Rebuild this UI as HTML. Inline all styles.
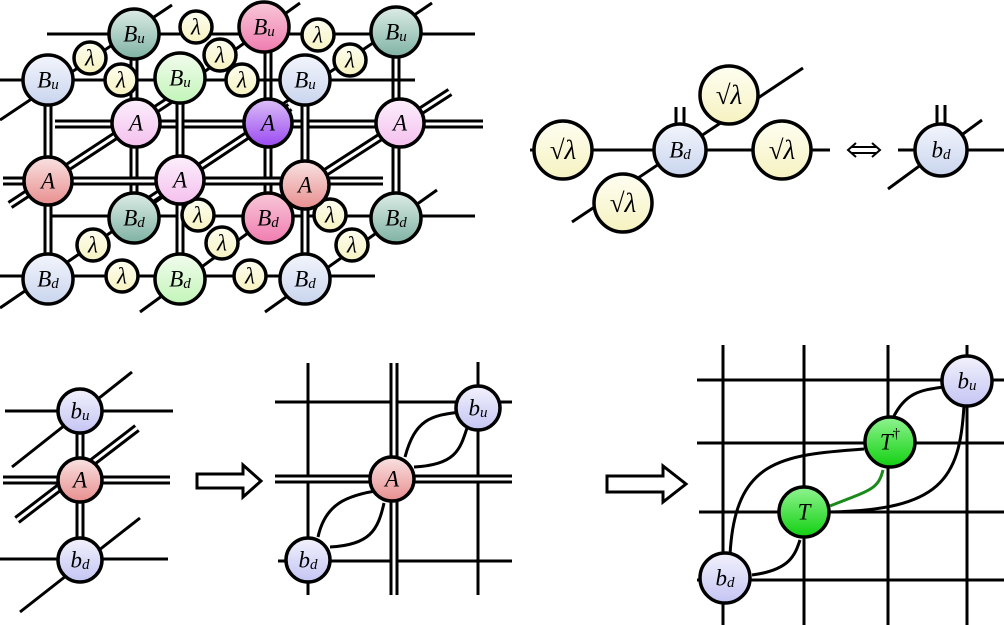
<!DOCTYPE html>
<html><head><meta charset="utf-8"><style>html,body{margin:0;padding:0;background:#fff}svg{display:block}</style></head><body>
<svg width="1004" height="625" viewBox="0 0 1004 625" xmlns="http://www.w3.org/2000/svg">
<defs>
<linearGradient id="lb" x1="0" y1="0" x2="0" y2="1"><stop offset="0" stop-color="#f3f5fc"/><stop offset="1" stop-color="#c9d5ee"/></linearGradient>
<linearGradient id="te" x1="0" y1="0" x2="0" y2="1"><stop offset="0" stop-color="#dcece6"/><stop offset="1" stop-color="#7fb2a3"/></linearGradient>
<linearGradient id="gr" x1="0" y1="0" x2="0" y2="1"><stop offset="0" stop-color="#f2fcee"/><stop offset="1" stop-color="#c2f5b8"/></linearGradient>
<linearGradient id="pk" x1="0" y1="0" x2="0" y2="1"><stop offset="0" stop-color="#f8c8d8"/><stop offset="1" stop-color="#f07cb0"/></linearGradient>
<linearGradient id="pu" x1="0" y1="0" x2="0" y2="1"><stop offset="0" stop-color="#dcc0f8"/><stop offset="1" stop-color="#9a48f0"/></linearGradient>
<linearGradient id="pa" x1="0" y1="0" x2="0" y2="1"><stop offset="0" stop-color="#fcf0fc"/><stop offset="1" stop-color="#f4c0ee"/></linearGradient>
<linearGradient id="ra" x1="0" y1="0" x2="0" y2="1"><stop offset="0" stop-color="#f9e2e2"/><stop offset="1" stop-color="#e88e8e"/></linearGradient>
<linearGradient id="la" x1="0" y1="0" x2="0" y2="1"><stop offset="0" stop-color="#fefef2"/><stop offset="1" stop-color="#f6f2c0"/></linearGradient>
<linearGradient id="bb" x1="0" y1="0" x2="0" y2="1"><stop offset="0" stop-color="#f2f2fc"/><stop offset="1" stop-color="#c4c4f4"/></linearGradient>
<linearGradient id="tg" x1="0" y1="0" x2="0" y2="1"><stop offset="0" stop-color="#90f490"/><stop offset="1" stop-color="#10d010"/></linearGradient>
</defs>
<style>
.s{stroke:#000;stroke-width:3;fill:none}
.d{stroke:#000;stroke-width:9;fill:none}
.w{stroke:#fff;stroke-width:3;fill:none}
.c{stroke:#000;stroke-width:3.5}
text{font-family:"Liberation Serif",serif;font-style:italic;font-size:23px;text-anchor:middle;dominant-baseline:central}
.sm{font-size:15px}
.sq{font-size:27px}
</style>

<g>
<line class="s" x1="47" y1="34" x2="475" y2="34"/>
<line class="s" x1="47" y1="216" x2="475" y2="216"/>
<path class="d" d="M134 34V218M268 27V218M396 32V218"/>
<path class="w" d="M134 34V218M268 27V218M396 32V218"/>
<path class="d" d="M55 124H483"/><path class="w" d="M55 124H483"/>
<path class="s" d="M0 120L172 5M140 118L300 3M262 118L432 3M0 308L170 192M140 312L300 195M265 312L437 190"/>
<path class="d" d="M10 205L170 100M150 200L290 107M275 205L450 92"/>
<path class="w" d="M10 205L170 100M150 200L290 107M275 205L450 92"/>
<line class="s" x1="0" y1="80" x2="415" y2="80"/>
<line class="s" x1="0" y1="276" x2="375" y2="276"/>
<path class="d" d="M48 80V279M180 78V279M305 80V279"/>
<path class="w" d="M48 80V279M180 78V279M305 80V279"/>
<path class="d" d="M3 181H383"/><path class="w" d="M3 181H383"/>

<circle class="c" cx="134" cy="34" r="25" fill="url(#te)"/><text x="134" y="34">B<tspan class="sm" dy="5">u</tspan></text>
<circle class="c" cx="264" cy="27" r="25" fill="url(#pk)"/><text x="264" y="27">B<tspan class="sm" dy="5">u</tspan></text>
<circle class="c" cx="396" cy="32" r="25" fill="url(#te)"/><text x="396" y="32">B<tspan class="sm" dy="5">u</tspan></text>
<circle class="c" cx="196" cy="27" r="16" fill="url(#la)"/><text x="196" y="27">λ</text>
<circle class="c" cx="318" cy="35" r="16" fill="url(#la)"/><text x="318" y="35">λ</text>
<circle class="c" cx="90" cy="58" r="16" fill="url(#la)"/><text x="90" y="58">λ</text>
<circle class="c" cx="220" cy="55" r="16" fill="url(#la)"/><text x="220" y="55">λ</text>
<circle class="c" cx="350" cy="60" r="16" fill="url(#la)"/><text x="350" y="60">λ</text>
<circle class="c" cx="121" cy="80" r="16" fill="url(#la)"/><text x="121" y="80">λ</text>
<circle class="c" cx="242" cy="80" r="16" fill="url(#la)"/><text x="242" y="80">λ</text>
<circle class="c" cx="48" cy="80" r="25" fill="url(#lb)"/><text x="48" y="80">B<tspan class="sm" dy="5">u</tspan></text>
<circle class="c" cx="180" cy="78" r="25" fill="url(#gr)"/><text x="180" y="78">B<tspan class="sm" dy="5">u</tspan></text>
<circle class="c" cx="305" cy="80" r="25" fill="url(#lb)"/><text x="305" y="80">B<tspan class="sm" dy="5">u</tspan></text>
<circle class="c" cx="136" cy="123" r="24" fill="url(#pa)"/><text x="136" y="123">A</text>
<circle class="c" cx="268" cy="123" r="24" fill="url(#pu)"/><text x="268" y="123">A</text>
<circle class="c" cx="400" cy="123" r="24" fill="url(#pa)"/><text x="400" y="123">A</text>
<circle class="c" cx="134" cy="218" r="25" fill="url(#te)"/><text x="134" y="218">B<tspan class="sm" dy="5">d</tspan></text>
<circle class="c" cx="268" cy="218" r="25" fill="url(#pk)"/><text x="268" y="218">B<tspan class="sm" dy="5">d</tspan></text>
<circle class="c" cx="396" cy="218" r="25" fill="url(#te)"/><text x="396" y="218">B<tspan class="sm" dy="5">d</tspan></text>
<circle class="c" cx="198" cy="215" r="16" fill="url(#la)"/><text x="198" y="215">λ</text>
<circle class="c" cx="330" cy="215" r="16" fill="url(#la)"/><text x="330" y="215">λ</text>
<circle class="c" cx="48" cy="181" r="24" fill="url(#ra)"/><text x="48" y="181">A</text>
<circle class="c" cx="180" cy="180" r="24" fill="url(#pa)"/><text x="180" y="180">A</text>
<circle class="c" cx="305" cy="185" r="24" fill="url(#ra)"/><text x="305" y="185">A</text>
<circle class="c" cx="93" cy="245" r="16" fill="url(#la)"/><text x="93" y="245">λ</text>
<circle class="c" cx="222" cy="243" r="16" fill="url(#la)"/><text x="222" y="243">λ</text>
<circle class="c" cx="352" cy="245" r="16" fill="url(#la)"/><text x="352" y="245">λ</text>
<circle class="c" cx="122" cy="276" r="16" fill="url(#la)"/><text x="122" y="276">λ</text>
<circle class="c" cx="250" cy="276" r="16" fill="url(#la)"/><text x="250" y="276">λ</text>
<circle class="c" cx="48" cy="279" r="25" fill="url(#lb)"/><text x="48" y="279">B<tspan class="sm" dy="5">d</tspan></text>
<circle class="c" cx="180" cy="279" r="25" fill="url(#gr)"/><text x="180" y="279">B<tspan class="sm" dy="5">d</tspan></text>
<circle class="c" cx="305" cy="279" r="25" fill="url(#lb)"/><text x="305" y="279">B<tspan class="sm" dy="5">d</tspan></text>
</g>

<!-- TOP-RIGHT -->
<line class="s" x1="530" y1="150" x2="830" y2="150"/>
<line class="s" x1="572" y1="222" x2="803" y2="68"/>
<path class="s" d="M676 107V126M684 107V126"/>
<circle class="c" cx="563" cy="150" r="29" fill="url(#la)"/><text class="sq" x="563" y="150">√λ</text>
<circle class="c" cx="729" cy="95" r="29" fill="url(#la)"/><text class="sq" x="729" y="95">√λ</text>
<circle class="c" cx="782" cy="150" r="29" fill="url(#la)"/><text class="sq" x="782" y="150">√λ</text>
<circle class="c" cx="623" cy="203" r="29" fill="url(#la)"/><text class="sq" x="623" y="203">√λ</text>
<circle class="c" cx="680" cy="150" r="26" fill="url(#lb)"/><text x="680" y="150">B<tspan class="sm" dy="5">d</tspan></text>
<path d="M856 143L848 150L856 157M872 143L880 150L872 157M851 147H877M851 153H877" stroke="#000" stroke-width="2" fill="none"/>
<line class="s" x1="898" y1="150" x2="1004" y2="150"/>
<line class="s" x1="888" y1="189" x2="982" y2="120"/>
<path class="s" d="M937 105V125M945 105V125"/>
<circle class="c" cx="941" cy="150" r="26" fill="url(#lb)"/><text x="941" y="150">b<tspan class="sm" dy="5">d</tspan></text>

<!-- BOTTOM-LEFT -->
<line class="s" x1="5" y1="411" x2="173" y2="411"/>
<line class="s" x1="0" y1="559" x2="168" y2="559"/>
<path class="d" d="M3 480H170"/><path class="w" d="M3 480H170"/>
<path class="s" d="M12 467L132 372M20 612L140 518"/>
<path class="d" d="M17 520L137 428"/><path class="w" d="M17 520L137 428"/>
<path class="d" d="M80 411V560"/><path class="w" d="M80 411V560"/>
<circle class="c" cx="80" cy="411" r="22" fill="url(#bb)"/><text x="80" y="411">b<tspan class="sm" dy="5">u</tspan></text>
<circle class="c" cx="80" cy="480" r="22" fill="url(#ra)"/><text x="80" y="480">A</text>
<circle class="c" cx="80" cy="560" r="22" fill="url(#bb)"/><text x="80" y="560">b<tspan class="sm" dy="5">d</tspan></text>

<path d="M197 474H243V465L261 481L243 497V488H197Z" fill="#fff" stroke="#000" stroke-width="3"/>

<!-- BOTTOM-MIDDLE -->
<path class="s" d="M308 363V595M478 362V595M275 402H512M278 561H512"/>
<path class="d" d="M394 363V595"/><path class="w" d="M394 363V595"/>
<path class="d" d="M275 479H512"/><path class="w" d="M275 479H512"/>
<path class="s" d="M405 457C415 420 430 415 462 412M414 467C455 465 460 450 467 428"/>
<path class="s" d="M318 537C325 505 345 495 382 490M330 547C370 545 378 530 384 503"/>
<circle class="c" cx="392" cy="479" r="22" fill="url(#ra)"/><text x="392" y="479">A</text>
<circle class="c" cx="478" cy="408" r="22" fill="url(#bb)"/><text x="478" y="408">b<tspan class="sm" dy="5">u</tspan></text>
<circle class="c" cx="308" cy="560" r="22" fill="url(#bb)"/><text x="308" y="560">b<tspan class="sm" dy="5">d</tspan></text>

<path d="M607 476H663V466L686 484L663 502V492H607Z" fill="#fff" stroke="#000" stroke-width="3"/>

<!-- BOTTOM-RIGHT -->
<path class="s" d="M723 345V625M804 345V625M888 345V625M967 345V625M697 380H1004M697 443H1004M699 512H1004M697 580H1004"/>
<path class="s" d="M730 555C735 460 780 455 864 449"/>
<path class="s" d="M752 575C790 570 795 555 800 540"/>
<path class="s" d="M829 512C940 510 960 480 964 405"/>
<path class="s" d="M893 418C905 393 920 390 944 387"/>
<path d="M830 506C870 490 878 490 883 470" stroke="#1a8a1a" stroke-width="3" fill="none"/>
<circle class="c" cx="967" cy="381" r="25" fill="url(#bb)"/><text x="967" y="381">b<tspan class="sm" dy="5">u</tspan></text>
<circle class="c" cx="890" cy="442" r="25" fill="url(#tg)"/><text x="890" y="442">T<tspan class="sm" dy="-8" style="font-style:normal">†</tspan></text>
<circle class="c" cx="804" cy="512" r="25" fill="url(#tg)"/><text x="804" y="512">T</text>
<circle class="c" cx="725" cy="578" r="25" fill="url(#bb)"/><text x="725" y="578">b<tspan class="sm" dy="5">d</tspan></text>
</svg>
</body></html>
